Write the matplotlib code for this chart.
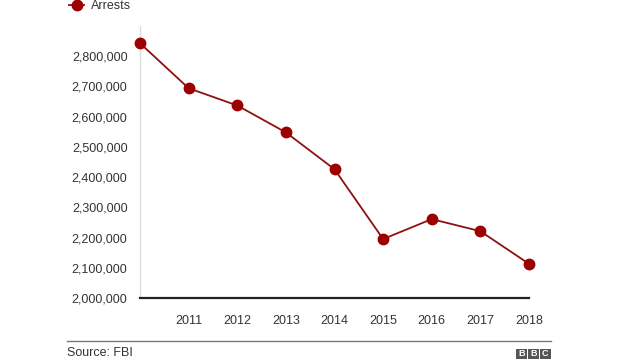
import matplotlib.pyplot as plt
from matplotlib.ticker import FuncFormatter
import matplotlib.patches as mpatches

plt.rcParams['font.family'] = ['Liberation Sans', 'DejaVu Sans']

years = [2010, 2011, 2012, 2013, 2014, 2015, 2016, 2017, 2018]
arrests = [2843000, 2694000, 2637000, 2548000, 2426000, 2195000, 2261000, 2221000, 2113000]
year_labels = ['2011', '2012', '2013', '2014', '2015', '2016', '2017', '2018']
yticks = [2000000, 2100000, 2200000, 2300000, 2400000, 2500000, 2600000, 2700000, 2800000]

red = '#9c0000'

fig = plt.figure(figsize=(6.4, 3.6), dpi=100)
ax = fig.add_axes([140/640, 62/360, 389/640, 272/360])

ax.plot(years, arrests, color='#8e1010', linewidth=1.3, marker='o',
        markersize=7.5, markerfacecolor=red, markeredgecolor=red,
        clip_on=False, zorder=3, label='Arrests')

ax.set_xlim(2010, 2018)
ax.set_ylim(2000000, 2900000)
ax.set_xticks(years[1:])
ax.set_xticklabels(year_labels)
ax.set_yticks(yticks)
ax.yaxis.set_major_formatter(FuncFormatter(lambda v, p: '{:,.0f}'.format(v)))
ax.tick_params(length=0, labelsize=9, colors='#333333')
ax.tick_params(axis='x', pad=12)
ax.tick_params(axis='y', pad=9)

for s in ['top', 'right']:
    ax.spines[s].set_visible(False)
ax.spines['left'].set_color('#dddddd')
ax.spines['left'].set_linewidth(1)
ax.spines['bottom'].set_color('#222222')
ax.spines['bottom'].set_linewidth(1.6)

fig.legend(loc='upper left', bbox_to_anchor=(58/640, 1.03), frameon=False,
           fontsize=9, handlelength=1.2, handletextpad=0.5, labelcolor='#333333')

# footer
fig.add_artist(plt.Line2D([67/640, 551/640], [1-341/360, 1-341/360],
                          color='#777777', linewidth=1))
fig.text(67/640, 1-353/360, 'Source: FBI', fontsize=9, color='#333333', va='center')
for i, ch in enumerate('BBC'):
    x0 = 516/640 + i*12/640
    fig.add_artist(mpatches.Rectangle((x0, 1-359/360), 10.5/640, 10/360,
                                      facecolor='#555555', edgecolor='none'))
    fig.text(x0 + 5.25/640, 1-354/360, ch, fontsize=6.5, color='white',
             fontweight='bold', ha='center', va='center')

fig.savefig('out.png', dpi=100)
